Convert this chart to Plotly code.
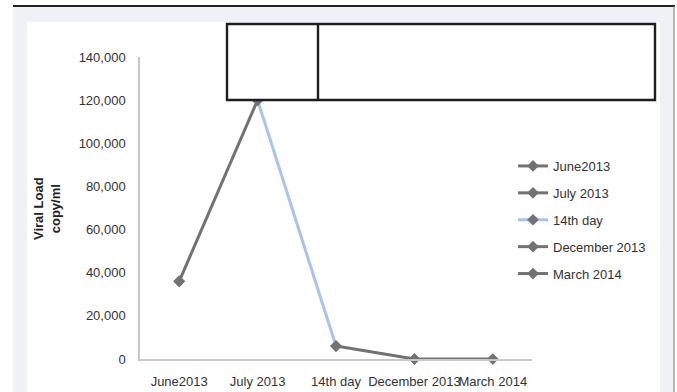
import plotly.graph_objects as go

categories = ["June2013", "July 2013", "14th day", "December 2013", "March 2014"]
viral_load = [36000, 120000, 6000, 0, 0]
series_names = ["June2013", "July 2013", "14th day", "December 2013", "March 2014"]
y_ticks = [0, 20000, 40000, 60000, 80000, 100000, 120000, 140000]

GRAY = "#727272"
BLUE = "#a9c3ec"
FONT = "Liberation Sans, Arial, sans-serif"

fig = go.Figure()

# segment index pairs: each series draws the segment ending at its category
segments = {
    "June2013": [0],
    "July 2013": [0, 1],
    "14th day": [1, 2],
    "December 2013": [2, 3],
    "March 2014": [3, 4],
}
draw_order = ["14th day", "June2013", "July 2013", "December 2013", "March 2014"]
for name in draw_order:
    idx = segments[name]
    color = BLUE if name == "14th day" else GRAY
    fig.add_trace(go.Scatter(
        x=[categories[i] for i in idx],
        y=[viral_load[i] for i in idx],
        name=name,
        mode="lines+markers",
        line=dict(color=color, width=3),
        marker=dict(symbol="diamond", size=9, color=GRAY),
        legendrank=series_names.index(name) + 1,
        legendgroup=name,
        cliponaxis=False,
    ))

L, R, T, B = 140, 145, 57, 33
W, H = 677, 392
pw, ph = W - L - R, H - T - B

def px(x):
    return (x - L) / pw

def py(y):
    return (H - B - y) / ph

shapes = [
    # gray panel
    dict(type="rect", xref="paper", yref="paper", x0=px(13), x1=px(674), y0=py(392), y1=py(6),
         fillcolor="#eff1f7", line=dict(width=0), layer="below"),
    # white chart area
    dict(type="rect", xref="paper", yref="paper", x0=px(27), x1=px(660), y0=py(392), y1=py(22),
         fillcolor="#ffffff", line=dict(width=0), layer="below"),
    # top border
    dict(type="line", xref="paper", yref="paper", x0=px(13), x1=px(675), y0=py(6), y1=py(6),
         line=dict(color="#231f20", width=2)),
    # right border
    dict(type="line", xref="paper", yref="paper", x0=px(674), x1=px(674), y0=py(6), y1=py(392),
         line=dict(color="#8a8a8a", width=1.2)),
    # table boxes
    dict(type="rect", xref="paper", yref="paper", x0=px(227), x1=px(655), y0=py(100), y1=py(24),
         fillcolor="#ffffff", line=dict(color="#1e1e1e", width=2.4), layer="above"),
    dict(type="line", xref="paper", yref="paper", x0=px(318), x1=px(318), y0=py(100), y1=py(24),
         line=dict(color="#1e1e1e", width=2.4), layer="above"),
]

fig.add_annotation(
    text="<b>Viral Load<br>copy/ml</b>", textangle=-90, xref="paper", yref="paper",
    x=px(47), y=py(209), showarrow=False, font=dict(family=FONT, size=13, color="#222"),
    xanchor="center", yanchor="middle",
)

fig.update_layout(
    width=W, height=H,
    margin=dict(l=L, r=R, t=T, b=B, autoexpand=False),
    paper_bgcolor="#ffffff", plot_bgcolor="rgba(0,0,0,0)",
    font=dict(family=FONT, size=13, color="#333"),
    shapes=shapes,
    showlegend=True,
    legend=dict(x=px(513), y=py(151), xanchor="left", yanchor="top",
                bgcolor="rgba(0,0,0,0)", tracegroupgap=7,
                font=dict(family=FONT, size=13, color="#333"),
                itemwidth=30),
    xaxis=dict(type="category", categoryorder="array", categoryarray=categories,
               range=[-0.5, 4.5], showgrid=False, zeroline=False,
               showline=True, linecolor="#c8c8c8", linewidth=1.5,
               ticks="", tickangle=0, ticklabelstandoff=10, fixedrange=True),
    yaxis=dict(range=[0, 140000], tickvals=y_ticks, tickformat=",",
               showgrid=False, zeroline=False, showline=True, linecolor="#c8c8c8",
               linewidth=1.5, ticks="", ticklabelstandoff=10, fixedrange=True),
)

fig.write_html("out.html")
